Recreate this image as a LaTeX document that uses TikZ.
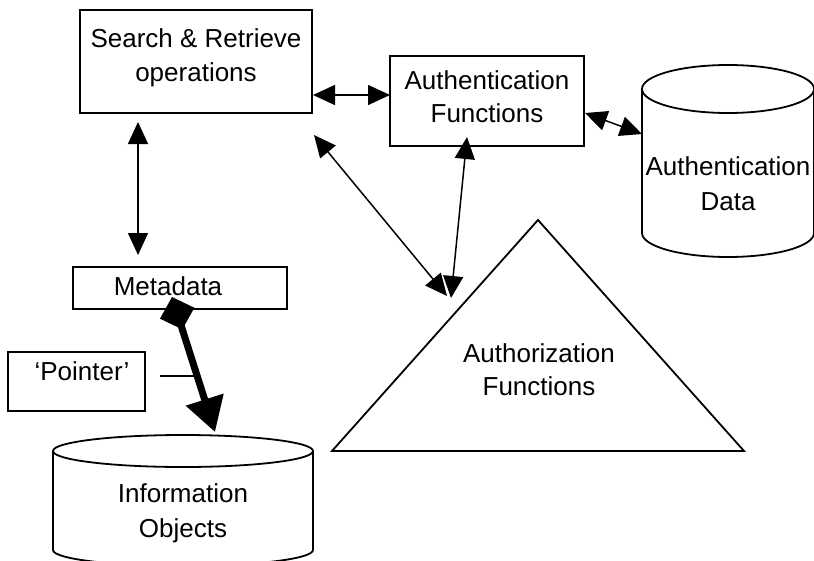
\documentclass[tikz,border=0pt]{standalone}
\usepackage{fontspec}
\setmainfont{Liberation Sans}
\usetikzlibrary{arrows.meta}
\begin{document}
\begin{tikzpicture}[x=1pt,y=-1pt,
  box/.style={draw, line width=1.8pt, inner sep=0pt},
  lbl/.style={anchor=base, inner sep=0pt, font=\fontsize{26}{34}\selectfont},
  shp/.style={line width=1.8pt, line join=miter},
  thin/.style={line width=1.5pt},
  con/.style={line width=1.5pt, {Triangle[length=22pt,width=20pt]}-{Triangle[length=22pt,width=20pt]}},
  pointer/.style={line width=7pt, {Diamond[length=34pt,width=36pt]}-{Triangle[length=34pt,width=38pt]}}]
\useasboundingbox (0,0) rectangle (814,560);

% boxes
\node[box, minimum width=232pt, minimum height=103pt] (search) at (196,61.5) {};
\node[box, minimum width=194pt, minimum height=90pt] (authf) at (487,101) {};
\node[box, minimum width=214pt, minimum height=42pt] (meta) at (180,288) {};
\node[box, minimum width=137pt, minimum height=59pt] (ptr) at (76.5,381.5) {};

% Authentication Data cylinder
\coordinate (adtop) at (728,89);
\draw[shp] (642,89) -- (642,233) arc[start angle=180,end angle=360,x radius=86pt,y radius=24pt] -- (814,89);
\draw[shp] (adtop) ellipse[x radius=86pt,y radius=24pt];

% Information Objects cylinder
\coordinate (iotop) at (183,451);
\draw[shp] (53,451) -- (53,550) arc[start angle=180,end angle=360,x radius=130pt,y radius=16pt] -- (313,451);
\draw[shp] (iotop) ellipse[x radius=130pt,y radius=16pt];

% Authorization triangle
\coordinate (tapex) at (538,220);
\coordinate (tright) at (744,451);
\coordinate (tleft) at (332,451);
\draw[shp] (tapex) -- (tright) -- (tleft) -- cycle;

% labels
\node[lbl] (l1a) at (196,47) {Search \& Retrieve};
\node[lbl] (l1b) at (196,81) {operations};
\node[lbl] (l2a) at (487,89) {Authentication};
\node[lbl] (l2b) at (487,122) {Functions};
\node[lbl] (l3a) at (728,175) {Authentication};
\node[lbl] (l3b) at (728,210) {Data};
\node[lbl] (l4) at (168,295) {Metadata};
\node[lbl] (l5) at (82,380) {‘Pointer’};
\node[lbl] (l6a) at (539,362) {Authorization};
\node[lbl] (l6b) at (539,395) {Functions};
\node[lbl] (l7a) at (183,502) {Information};
\node[lbl] (l7b) at (183,537) {Objects};

% connector end points
\coordinate (c1s) at (313,95);
\coordinate (c1e) at (390,95);
\coordinate (c2s) at (138,122);
\coordinate (c2e) at (138,255);
\coordinate (c3s) at (585,113);
\coordinate (c3e) at (642,134);
\coordinate (c4s) at (314,135);
\coordinate (c4e) at (447,296);
\coordinate (c5s) at (467,137);
\coordinate (c5e) at (451,298);
\coordinate (p1) at (172,297);
\coordinate (p2) at (215,432);
\coordinate (q1) at (160,376);
\coordinate (q2) at (197,376);

% connectors
\draw[con] (c1s) -- (c1e);
\draw[con] (c2s) -- (c2e);
\draw[con] (c3s) -- (c3e);
\draw[con] (c4s) -- (c4e);
\draw[con] (c5s) -- (c5e);
\draw[pointer] (p1) -- (p2);
\draw[thin] (q1) -- (q2);
\end{tikzpicture}
\end{document}
